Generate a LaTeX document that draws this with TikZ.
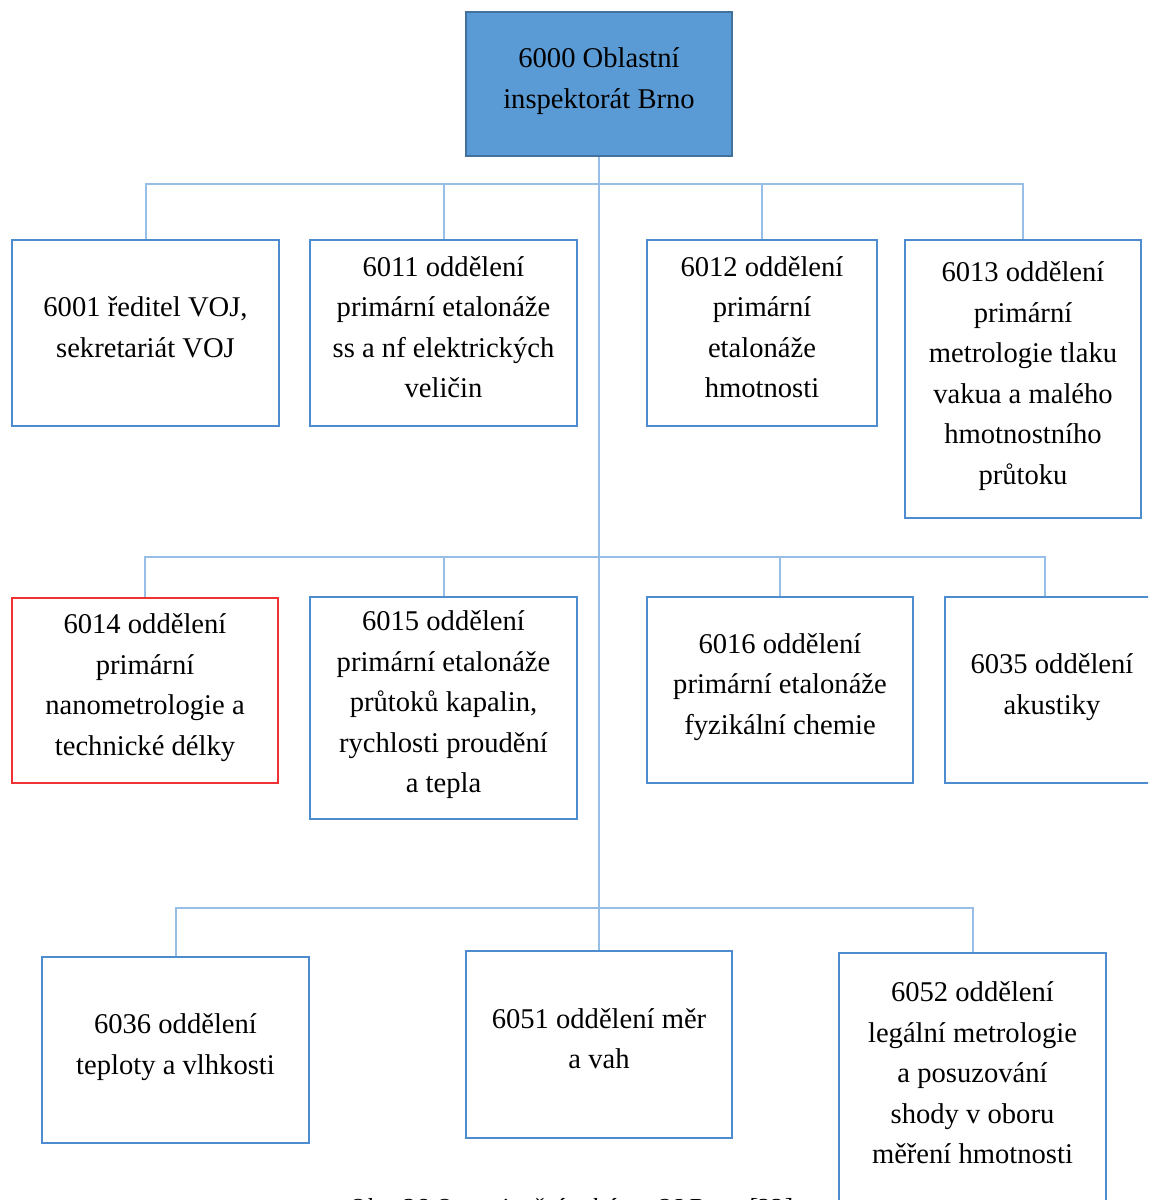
\documentclass[tikz,border=0pt]{standalone}
\usepackage{fontspec}
\setmainfont{Liberation Serif}
\usetikzlibrary{positioning}
\definecolor{unitblue}{RGB}{76,140,207}
\definecolor{rootfill}{RGB}{91,155,213}
\definecolor{rootline}{RGB}{65,113,156}
\definecolor{linkblue}{RGB}{150,190,230}
\definecolor{alertred}{RGB}{240,50,50}
\newcommand\orgfont{\fontsize{14.3pt}{20.25pt}\selectfont}
\tikzset{
  unit/.style={draw=unitblue, line width=1pt, anchor=north west,
               align=center, inner sep=0pt, text depth=6pt, font=\orgfont},
  root/.style={unit, fill=rootfill, draw=rootline},
  link/.style={draw=linkblue, line width=1pt},
}
\begin{document}
\begin{tikzpicture}[x=0.5pt, y=-0.5pt]
  \useasboundingbox (0,0) rectangle (1148,1200);
  \clip (0,0) rectangle (1148,1200);
  % head of the inspectorate
  \node[root, minimum width=133pt, minimum height=72pt] (root) at (465,11)
    {6000 Oblastní\\ inspektorát Brno};
  % first row
  \node[unit, minimum width=133.5pt, minimum height=93pt] (d6001) at (11,239)
    {6001 ředitel VOJ,\\ sekretariát VOJ};
  \node[unit, minimum width=133.5pt, minimum height=93pt] (d6011) at (309,239)
    {6011 oddělení\\ primární etalonáže\\ ss a nf elektrických\\ veličin};
  \node[unit, minimum width=115pt, minimum height=93pt] (d6012) at (646,239)
    {6012 oddělení\\ primární\\ etalonáže\\ hmotnosti};
  \node[unit, minimum width=118pt, minimum height=139pt] (d6013) at (904,239)
    {6013 oddělení\\ primární\\ metrologie tlaku\\ vakua a malého\\ hmotnostního\\ průtoku};
  % second row
  \node[unit, draw=alertred, minimum width=133pt, minimum height=92.5pt] (d6014) at (11,597)
    {6014 oddělení\\ primární\\ nanometrologie a\\ technické délky};
  \node[unit, minimum width=133.5pt, minimum height=111pt] (d6015) at (309,596)
    {6015 oddělení\\ primární etalonáže\\ průtoků kapalin,\\ rychlosti proudění\\ a tepla};
  \node[unit, minimum width=133pt, minimum height=93pt] (d6016) at (646,596)
    {6016 oddělení\\ primární etalonáže\\ fyzikální chemie};
  \node[unit, minimum width=107pt, minimum height=93pt] (d6035) at (944,596)
    {6035 oddělení\\ akustiky};
  % third row
  \node[unit, minimum width=133.5pt, minimum height=93pt] (d6036) at (41,956)
    {6036 oddělení\\ teploty a vlhkosti};
  \node[unit, minimum width=133pt, minimum height=93.5pt] (d6051) at (465,950)
    {6051 oddělení měr\\ a vah};
  \node[unit, minimum width=133.5pt, minimum height=126pt] (d6052) at (838,952)
    {6052 oddělení\\ legální metrologie\\ a posuzování\\ shody v oboru\\ měření hmotnosti};
  % caption
  \node[font=\itshape\fontsize{13pt}{15pt}\selectfont, anchor=base] (caption) at (570,1216)
    {Obr. 26 Organizační schéma OI Brno [33]};
  % connectors
  \coordinate (bus1) at (599,184);
  \coordinate (bus2) at (599,557);
  \coordinate (bus3) at (599,908);
  \draw[link] (root.south) -- (d6051.north);
  \draw[link] (d6001.north) |- (bus1) -| (d6013.north);
  \draw[link] (d6011.north) -- (d6011.north |- bus1);
  \draw[link] (d6012.north) -- (d6012.north |- bus1);
  \draw[link] (d6014.north) |- (bus2) -| ([xshift=-3.5pt]d6035.north);
  \draw[link] (d6015.north) -- (d6015.north |- bus2);
  \draw[link] (d6016.north) -- (d6016.north |- bus2);
  \draw[link] (d6036.north) |- (bus3) -| (d6052.north);
\end{tikzpicture}
\end{document}
